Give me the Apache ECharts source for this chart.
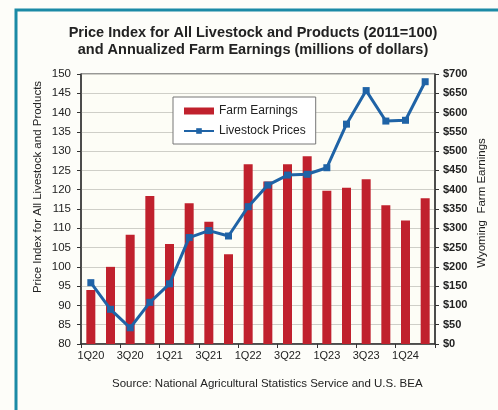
<!DOCTYPE html>
<html>
<head>
<meta charset="utf-8">
<script src="https://cdn.jsdelivr.net/npm/echarts@6/dist/echarts.min.js"></script>
<style>
  html, body { margin: 0; padding: 0; background: #fdfdf9; }
  #chart { width: 498px; height: 410px; }
</style>
</head>
<body>
<div id="chart"></div>
<script>
// Quarterly categories
const quarters = ['1Q20','2Q20','3Q20','4Q20','1Q21','2Q21','3Q21','4Q21','1Q22','2Q22','3Q22','4Q22','1Q23','2Q23','3Q23','4Q23','1Q24','2Q24'];
// Annualized Wyoming farm earnings, millions of dollars (right axis)
const farmEarnings = [140, 200, 283, 384, 259, 365, 317, 233, 466, 421, 466, 487, 397, 405, 427, 360, 320, 378];
// Price index for all livestock and products, 2011=100 (left axis)
const livestockPrices = [95.9, 89.0, 84.2, 90.8, 95.6, 107.6, 109.4, 108.0, 115.6, 121.2, 123.8, 124.0, 125.7, 137.0, 145.7, 137.8, 138.0, 148.0];

const FONT = 'Liberation Sans, Arial, sans-serif';
const chart = echarts.init(document.getElementById('chart'), null, { renderer: 'canvas' });

chart.setOption({
  backgroundColor: '#fdfdf9',
  animation: false,
  textStyle: { fontFamily: FONT },
  title: {
    text: 'Price Index for All Livestock and Products (2011=100)\nand Annualized Farm Earnings (millions of dollars)',
    left: 248, top: 19, textAlign: 'center',
    textStyle: { fontFamily: FONT, fontSize: 14.5, fontWeight: 'bold', color: '#222', lineHeight: 17 }
  },
  graphic: [
    // teal frame around the figure
    { type: 'polyline', shape: { points: [[16, 410], [16, 10], [498, 10]] },
      style: { stroke: '#1b8aa6', lineWidth: 3, fill: null } },
    // left axis title, rotated
    { type: 'text', x: 38, y: 187, rotation: Math.PI / 2,
      style: { text: 'Price Index for All Livestock and Products', font: '11.5px ' + FONT,
               fill: '#222', align: 'center', verticalAlign: 'middle' } },
    // right axis title, rotated
    { type: 'text', x: 482, y: 203, rotation: Math.PI / 2,
      style: { text: 'Wyoming  Farm Earnings', font: '11.5px ' + FONT,
               fill: '#222', align: 'center', verticalAlign: 'middle' } },
    { type: 'text', left: 112, top: 378,
      style: { text: 'Source: National Agricultural Statistics Service and U.S. BEA',
               font: '11.5px ' + FONT, fill: '#222' } }
  ],
  legend: {
    orient: 'vertical', left: 173, top: 97,
    padding: [8, 10, 7, 10], itemGap: 8,
    backgroundColor: '#ffffff', borderColor: '#777', borderWidth: 1,
    itemWidth: 30, itemHeight: 7,
    textStyle: { fontFamily: FONT, fontSize: 12, color: '#222' },
    data: [
      { name: 'Farm Earnings', icon: 'rect' },
      { name: 'Livestock Prices' }
    ]
  },
  grid: {
    left: 81, right: 63, top: 74, bottom: 66,
    show: true, borderColor: '#333', borderWidth: 1, backgroundColor: '#fdfdf6'
  },
  xAxis: {
    type: 'category', data: quarters,
    axisLine: { lineStyle: { color: '#333', width: 1.5 } },
    axisTick: { show: true, length: 4, alignWithLabel: false, lineStyle: { color: '#333' } },
    axisLabel: { interval: 1, color: '#222', fontSize: 11, margin: 6, fontFamily: FONT }
  },
  yAxis: [
    {
      type: 'value', min: 80, max: 150, interval: 5, position: 'left',
      axisLine: { show: true, lineStyle: { color: '#333', width: 1.5 } },
      axisTick: { show: true, length: 4, lineStyle: { color: '#333' } },
      axisLabel: { color: '#222', fontSize: 11.5, margin: 10, fontFamily: FONT },
      splitLine: { show: true, lineStyle: { color: '#cfcfc8', width: 1 } }
    },
    {
      type: 'value', min: 0, max: 700, interval: 50, position: 'right',
      axisLine: { show: true, lineStyle: { color: '#333', width: 1.5 } },
      axisTick: { show: true, length: 4, lineStyle: { color: '#333' } },
      axisLabel: { color: '#222', fontSize: 11, fontWeight: 'bold', margin: 8, fontFamily: FONT,
                   formatter: v => '$' + v },
      splitLine: { show: false }
    }
  ],
  series: [
    {
      name: 'Farm Earnings', type: 'bar', yAxisIndex: 1,
      data: farmEarnings, barWidth: 9,
      itemStyle: { color: '#c0212d' }
    },
    {
      name: 'Livestock Prices', type: 'line', yAxisIndex: 0,
      data: livestockPrices,
      symbol: 'rect', symbolSize: 7,
      lineStyle: { color: '#1f63a6', width: 3 },
      itemStyle: { color: '#1f63a6' }
    }
  ]
});
</script>
</body>
</html>
